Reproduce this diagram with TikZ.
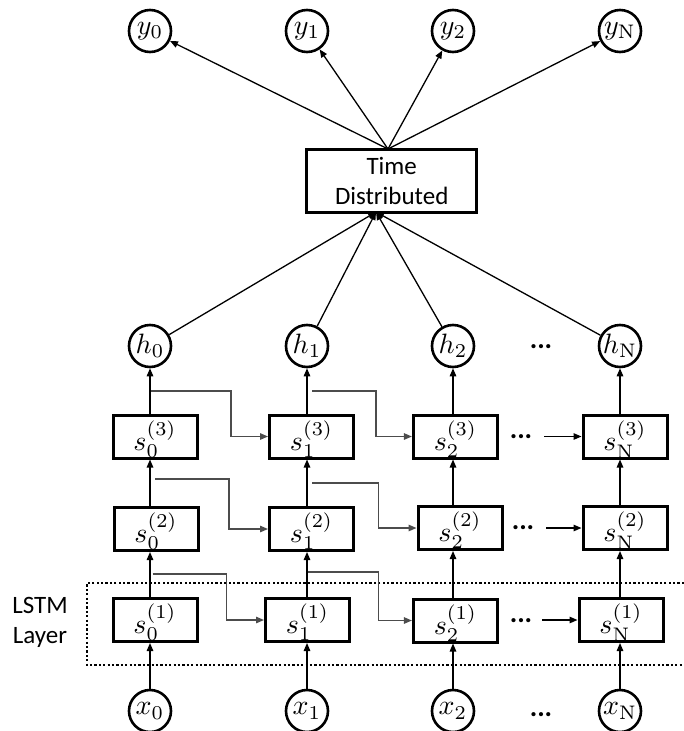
\documentclass[tikz,border=0pt]{standalone}
\usepackage{graphicx}
\usepackage[no-math]{fontspec}
\setmainfont{Carlito}
\usetikzlibrary{arrows.meta}
\newcommand{\mth}[1]{\scalebox{2.8}{$#1$}}
\tikzset{
  circ/.style={circle, draw, line width=2.6pt, minimum size=42pt, inner sep=0pt},
  sbox/.style={rectangle, draw, line width=3pt, minimum width=84pt, minimum height=43pt,
    inner sep=0pt, text height=27pt, text depth=0pt},
  tdbox/.style={rectangle, draw, line width=3pt, minimum width=170pt, minimum height=63pt,
    inner sep=0pt, align=center, font=\fontsize{25}{30}\selectfont},
  arr/.style={line width=1.3pt, -{Triangle[length=8pt,width=6.5pt]}},
  branch/.style={arr, draw=black!70},
  dotsn/.style={inner sep=0pt, font=\bfseries\fontsize{28}{30}\selectfont},
  lstm/.style={line width=2.3pt, dash pattern=on 2.2pt off 2.2pt},
  lbl/.style={inner sep=0pt, align=center, font=\fontsize{25}{30}\selectfont}
}
\begin{document}
\begin{tikzpicture}[x=1pt,y=-1pt]
\useasboundingbox (0,0) rectangle (684,731);
% output nodes
\node[circ] (y0) at (150,31) {\mth{y_0}};
\node[circ] (y1) at (307,31) {\mth{y_1}};
\node[circ] (y2) at (453,31) {\mth{y_2}};
\node[circ] (yN) at (620,31) {\mth{y_{\mathrm{N}}}};
% time distributed
\node[tdbox] (td) at (391.7,180.5) {Time\\Distributed};
\coordinate (tdtop) at (388,149);
\coordinate (tdbot) at (376,212);
% hidden outputs
\node[circ] (h0) at (150,346) {\mth{h_0}};
\node[circ] (h1) at (307,346) {\mth{h_1}};
\node[circ] (h2) at (453,346) {\mth{h_2}};
\node[circ] (hN) at (620,346) {\mth{h_{\mathrm{N}}}};
\node[dotsn] (dh) at (541,347) {...};
% layer 3
\node[sbox] (s30) at (155,436.5) {\mth{s_0^{(3)}}};
\node[sbox] (s31) at (311.5,436.5) {\mth{s_1^{(3)}}};
\node[sbox] (s32) at (455.4,436.5) {\mth{s_2^{(3)}}};
\node[sbox] (s3N) at (625,436.5) {\mth{s_{\mathrm{N}}^{(3)}}};
\node[dotsn] (d3) at (521,437) {...};
% layer 2
\node[sbox] (s20) at (156,529) {\mth{s_0^{(2)}}};
\node[sbox] (s21) at (311.5,529) {\mth{s_1^{(2)}}};
\node[sbox] (s22) at (460,528) {\mth{s_2^{(2)}}};
\node[sbox] (s2N) at (625,528) {\mth{s_{\mathrm{N}}^{(2)}}};
\node[dotsn] (d2) at (523,528) {...};
% layer 1
\node[sbox] (s10) at (155,620) {\mth{s_0^{(1)}}};
\node[sbox] (s11) at (307.5,620) {\mth{s_1^{(1)}}};
\node[sbox] (s12) at (455.4,620.5) {\mth{s_2^{(1)}}};
\node[sbox] (s1N) at (621,620) {\mth{s_{\mathrm{N}}^{(1)}}};
\node[dotsn] (d1) at (521,621) {...};
% inputs
\node[circ] (x0) at (150,711) {\mth{x_0}};
\node[circ] (x1) at (307,711) {\mth{x_1}};
\node[circ] (x2) at (453,711) {\mth{x_2}};
\node[circ] (xN) at (620,711) {\mth{x_{\mathrm{N}}}};
\node[dotsn] (dx) at (541,715) {...};
% LSTM layer frame
\draw[lstm] (684,583) -- (87,583) -- (87,665) -- (684,665);
\node[lbl] (lstmtxt) at (40,622) {LSTM\\Layer};
% arrows to outputs
\foreach \n in {y0,y1,y2,yN} \draw[arr] (tdtop) -- (\n);
\foreach \n in {h0,h1,h2,hN} \draw[arr] (\n) -- (tdbot);
% vertical arrows
\foreach \c in {0,1,2,N} {
  \draw[arr] (x\c.north) -- (x\c.north |- s1\c.south);
  \draw[arr] (s1\c.north -| x\c) -- (s2\c.south -| x\c);
  \draw[arr] (s2\c.north -| x\c) -- (s3\c.south -| x\c);
  \draw[arr] (s3\c.north -| h\c) -- (h\c.south);
}
% recurrent branches
\coordinate (b30) at (151,391);
\coordinate (b31) at (312,391);
\coordinate (b20) at (155,479);
\coordinate (b21) at (312,483);
\coordinate (b10) at (152.7,574);
\coordinate (b11) at (307.5,572);
\draw[branch] (b30) -- (231,391) |- (s31.west);
\draw[branch] (b31) -- (376,391) |- (s32.west);
\draw[branch] (b20) -- (229,479) |- (s21.west);
\draw[branch] (b21) -- (378.6,483) |- (s22.west);
\draw[branch] (b10) -- (226.8,574) |- (s11.west);
\draw[branch] (b11) -- (378.6,572) |- (s12.west);
% dots to last column
\draw[arr] ([xshift=12pt]d3.east |- s3N.west) -- (s3N.west);
\draw[arr] ([xshift=12pt]d2.east |- s2N.west) -- (s2N.west);
\draw[arr] ([xshift=10pt]d1.east |- s1N.west) -- (s1N.west);
\end{tikzpicture}
\end{document}
